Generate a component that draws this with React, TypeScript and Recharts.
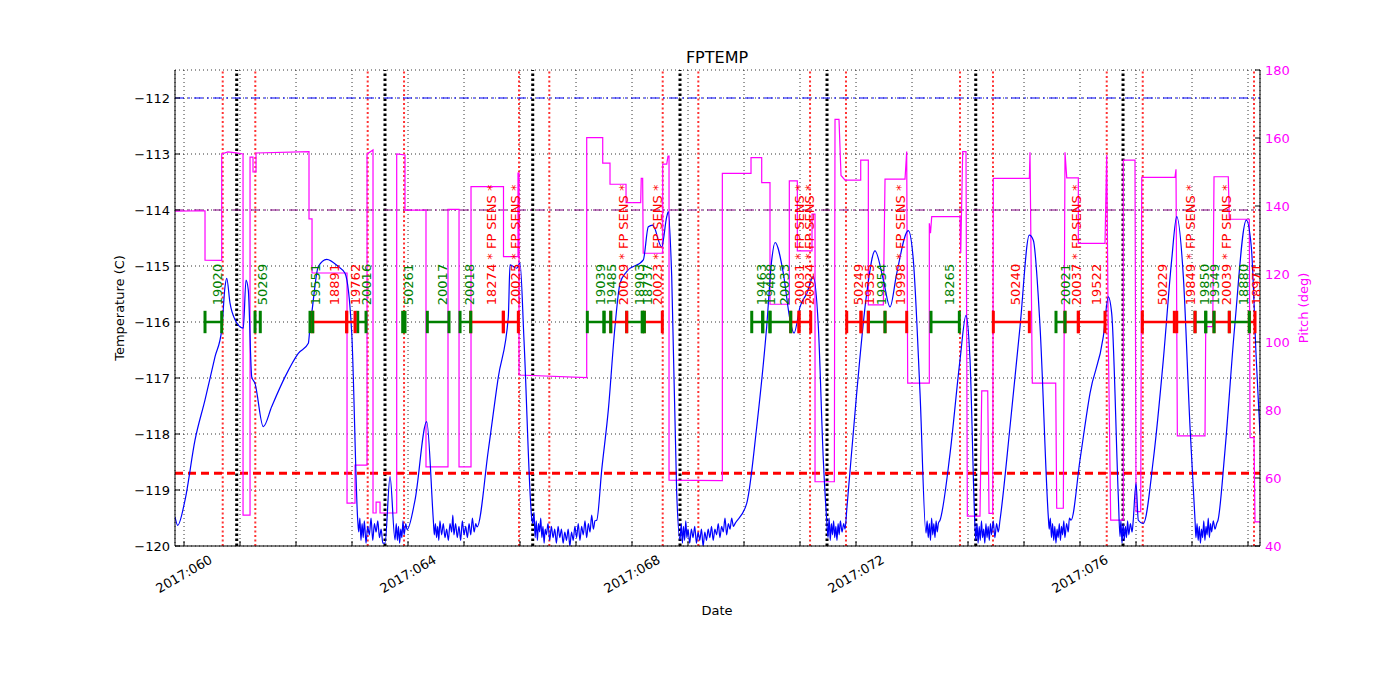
import { ComposedChart, Line, XAxis, YAxis, CartesianGrid, ReferenceLine, Scatter } from "recharts"

// FPTEMP (deg C) vs day of year 2017
const tempPts: [number, number][] = [
  [59.839, -119.48], [59.887, -119.63], [60.018, -119.18], [60.196, -118.11], [60.375, -117.39], [60.554, -116.62],
  [60.673, -116.14], [60.732, -115.37], [60.763, -115.22], [60.821, -115.66], [60.911, -115.96], [61.059, -116.11],
  [61.107, -115.25], [61.148, -115.43], [61.209, -116.98], [61.268, -117.1], [61.416, -117.87], [61.566, -117.51],
  [61.804, -116.98], [62.041, -116.56], [62.22, -116.38], [62.25, -116.08], [62.28, -115.85], [62.398, -115.01],
  [62.548, -114.88], [62.755, -115.01], [62.875, -115.13], [62.995, -116.2], [63.102, -119.54],
  [63.12, -119.75], [63.14, -119.5], [63.16, -119.9], [63.18, -119.6], [63.2, -119.85], [63.22, -119.55], [63.25, -119.95],
  [63.28, -119.65], [63.31, -119.8], [63.34, -119.5], [63.37, -119.9], [63.4, -119.6], [63.43, -119.75], [63.46, -119.55],
  [63.49, -119.85], [63.52, -119.7], [63.55, -119.95], [63.589, -119.95],
  [63.679, -118.76], [63.768, -119.89],
  [63.79, -119.6], [63.81, -119.9], [63.83, -119.65], [63.85, -119.95], [63.87, -119.7], [63.89, -119.85], [63.91, -119.55],
  [63.93, -119.8], [63.96, -119.6], [63.982, -119.71],
  [64.125, -119.18], [64.334, -117.78], [64.452, -119.54],
  [64.47, -119.8], [64.49, -119.6], [64.51, -119.85], [64.53, -119.65], [64.55, -119.9], [64.57, -119.55], [64.6, -119.8],
  [64.63, -119.6], [64.66, -119.85], [64.69, -119.7], [64.72, -119.9], [64.75, -119.6], [64.78, -119.75], [64.8, -119.45],
  [64.82, -119.8], [64.85, -119.6], [64.88, -119.85], [64.91, -119.65], [64.94, -119.9], [64.97, -119.55], [65.0, -119.8],
  [65.03, -119.65], [65.06, -119.85], [65.09, -119.6], [65.12, -119.8], [65.15, -119.5], [65.18, -119.75], [65.21, -119.6],
  [65.232, -119.66],
  [65.434, -118.29], [65.613, -116.98], [65.791, -115.91], [65.821, -114.98], [65.941, -115.04], [66.0, -114.95],
  [66.071, -116.32], [66.214, -119.54],
  [66.23, -119.6], [66.25, -119.4], [66.27, -119.85], [66.29, -119.55], [66.31, -119.9], [66.33, -119.6], [66.35, -119.75],
  [66.37, -119.5], [66.39, -119.85], [66.41, -119.65], [66.43, -119.95], [66.45, -119.7], [66.47, -119.8], [66.5, -119.6],
  [66.53, -119.9], [66.56, -119.65], [66.59, -119.85], [66.62, -119.7], [66.65, -119.95], [66.68, -119.65], [66.71, -119.85],
  [66.74, -119.7], [66.77, -119.95], [66.8, -119.75], [66.83, -119.9], [66.86, -119.7], [66.89, -120.0], [66.92, -119.75],
  [66.95, -119.9], [66.98, -119.65], [67.01, -119.85], [67.04, -119.6], [67.07, -119.9], [67.1, -119.65], [67.13, -119.8],
  [67.16, -119.55], [67.19, -119.85], [67.22, -119.6], [67.25, -119.75], [67.28, -119.45], [67.31, -119.7], [67.339, -119.55],
  [67.37, -119.54], [67.459, -118.64], [67.577, -117.57], [67.696, -116.08], [67.786, -115.31], [67.905, -115.1],
  [68.202, -114.89], [68.291, -114.3], [68.37, -114.27], [68.53, -114.66], [68.62, -114.12], [68.648, -114.03],
  [68.709, -115.19], [68.798, -119.06], [68.857, -119.89],
  [68.88, -119.6], [68.9, -119.95], [68.92, -119.65], [68.94, -119.9], [68.96, -119.55], [68.98, -119.85], [69.0, -119.7],
  [69.03, -119.95], [69.06, -119.7], [69.09, -119.85], [69.12, -119.65], [69.15, -119.95], [69.18, -119.75], [69.21, -119.9],
  [69.24, -119.7], [69.27, -120.0], [69.3, -119.75], [69.33, -119.9], [69.36, -119.7], [69.39, -119.85], [69.42, -119.65],
  [69.45, -119.9], [69.48, -119.7], [69.51, -119.8], [69.54, -119.6], [69.57, -119.85], [69.6, -119.65], [69.63, -119.75],
  [69.66, -119.5], [69.69, -119.8], [69.72, -119.6], [69.75, -119.7], [69.78, -119.5], [69.81, -119.65], [69.839, -119.6],
  [70.048, -119.24], [70.227, -117.87], [70.405, -116.08], [70.495, -114.89], [70.554, -114.58], [70.702, -115.13],
  [70.821, -115.96], [70.893, -116.2], [71.0, -115.73], [71.12, -115.49], [71.238, -115.19], [71.327, -116.08],
  [71.416, -118.46], [71.477, -119.54],
  [71.5, -119.85], [71.52, -119.5], [71.54, -119.9], [71.56, -119.6], [71.58, -119.8], [71.6, -119.55], [71.62, -119.85],
  [71.64, -119.65], [71.66, -119.9], [71.68, -119.6], [71.7, -119.8], [71.72, -119.55], [71.75, -119.75], [71.78, -119.6],
  [71.804, -119.7],
  [71.834, -119.36], [72.012, -117.27], [72.191, -115.49], [72.339, -114.73], [72.488, -115.25], [72.607, -115.73],
  [72.727, -115.13], [72.934, -114.37], [73.023, -114.89], [73.143, -117.27], [73.25, -119.77],
  [73.27, -119.55], [73.29, -119.85], [73.31, -119.6], [73.33, -119.9], [73.35, -119.5], [73.37, -119.8], [73.39, -119.6],
  [73.41, -119.85], [73.43, -119.55], [73.45, -119.75], [73.47, -119.6], [73.5, -119.54],
  [73.679, -118.35], [73.857, -116.68], [73.964, -115.88], [74.036, -116.68], [74.125, -119.66],
  [74.14, -119.9], [74.16, -119.6], [74.18, -119.95], [74.2, -119.65], [74.22, -119.9], [74.24, -119.55], [74.26, -119.85],
  [74.28, -119.7], [74.3, -119.95], [74.32, -119.6], [74.34, -119.85], [74.36, -119.65], [74.38, -119.9], [74.4, -119.6],
  [74.42, -119.8], [74.45, -119.55], [74.48, -119.85], [74.51, -119.6], [74.54, -119.75], [74.571, -119.54],
  [74.75, -117.87], [74.929, -116.08], [75.095, -114.45], [75.166, -114.54], [75.286, -116.08], [75.434, -119.48],
  [75.45, -119.7], [75.47, -119.5], [75.49, -119.85], [75.51, -119.6], [75.53, -119.9], [75.55, -119.65], [75.57, -119.95],
  [75.59, -119.7], [75.61, -119.85], [75.63, -119.6], [75.65, -119.9], [75.67, -119.65], [75.69, -119.8], [75.71, -119.55],
  [75.73, -119.85], [75.76, -119.6], [75.79, -119.75], [75.81, -119.5], [75.839, -119.54],
  [76.0, -118.46], [76.179, -117.27], [76.416, -116.26], [76.505, -115.55], [76.566, -115.85], [76.684, -119.12],
  [76.714, -119.83],
  [76.73, -119.55], [76.75, -119.95], [76.77, -119.6], [76.79, -119.9], [76.81, -119.65], [76.83, -119.85], [76.85, -119.55],
  [76.87, -119.8], [76.9, -119.6], [76.93, -119.75], [76.946, -119.6],
  [77.0, -118.88], [77.041, -119.54], [77.13, -119.6], [77.309, -118.46], [77.487, -116.68], [77.637, -114.89],
  [77.727, -114.12], [77.845, -115.19], [77.964, -117.87], [78.054, -119.54],
  [78.07, -119.85], [78.09, -119.6], [78.11, -119.9], [78.13, -119.65], [78.15, -119.95], [78.17, -119.7], [78.19, -119.85],
  [78.21, -119.55], [78.23, -119.9], [78.25, -119.65], [78.27, -119.8], [78.29, -119.5], [78.31, -119.85], [78.33, -119.6],
  [78.35, -119.75], [78.38, -119.55], [78.41, -119.7], [78.44, -119.6], [78.464, -119.54],
  [78.584, -118.35], [78.762, -116.08], [78.97, -114.18], [79.059, -114.66], [79.148, -116.68], [79.214, -118.0],
]

// pitch (deg) vs day of year 2017
const pitchPts: [number, number][] = [
  [59.839, 138.5], [60.375, 138.6], [60.375, 124.1], [60.673, 124.0], [60.673, 155.3], [60.786, 155.9], [60.929, 155.6],
  [61.054, 155.3], [61.054, 49.1], [61.179, 49.1], [61.179, 154.4], [61.232, 154.4], [61.232, 150.0], [61.286, 150.0],
  [61.286, 155.6], [62.232, 156.0], [62.232, 136.2], [62.286, 136.2], [62.286, 120.3], [62.911, 120.3], [62.911, 52.6],
  [63.054, 52.6], [63.054, 63.8], [63.268, 63.8], [63.268, 155.3], [63.375, 156.5], [63.375, 49.7], [63.43, 49.7],
  [63.43, 52.9], [63.5, 52.9], [63.5, 49.7], [63.798, 49.7], [63.798, 155.3], [63.946, 155.0], [63.946, 138.8],
  [64.321, 138.8], [64.321, 63.3], [64.714, 63.3], [64.714, 139.0], [64.911, 139.0], [64.911, 63.3], [65.125, 63.3],
  [65.125, 145.7], [65.705, 145.7], [65.705, 125.1], [65.964, 125.1], [65.964, 149.7], [65.982, 149.7], [65.982, 90.3],
  [67.191, 89.5], [67.191, 160.1], [67.477, 160.1], [67.477, 152.6], [67.607, 152.6], [67.607, 146.4], [67.893, 146.4],
  [67.893, 141.0], [68.155, 141.0], [68.165, 148.1], [68.19, 148.1], [68.2, 126.1], [68.548, 126.1], [68.548, 152.3],
  [68.62, 152.3], [68.643, 154.7], [68.661, 154.7], [68.661, 59.4], [69.613, 59.2], [69.613, 149.6], [70.125, 149.6],
  [70.125, 154.2], [70.316, 154.2], [70.316, 146.9], [70.464, 146.9], [70.464, 111.1], [70.809, 111.1], [70.809, 147.4],
  [70.952, 147.4], [70.952, 126.8], [71.214, 126.8], [71.214, 137.6], [71.268, 137.6], [71.268, 58.9], [71.613, 58.9],
  [71.625, 165.5], [71.696, 165.5], [71.732, 149.0], [71.804, 147.6], [72.084, 147.6], [72.084, 153.5], [72.22, 153.5],
  [72.22, 110.9], [72.488, 110.9], [72.518, 147.9], [72.875, 147.9], [72.905, 156.0], [72.923, 87.9], [73.309, 87.9],
  [73.309, 134.9], [73.33, 132.0], [73.352, 136.9], [73.857, 136.9], [73.87, 126.2], [73.905, 156.0], [73.964, 156.0],
  [73.988, 48.8], [74.214, 48.8], [74.245, 85.6], [74.352, 85.6], [74.375, 49.6], [74.441, 49.6], [74.452, 148.1],
  [75.095, 148.1], [75.107, 155.8], [75.148, 87.9], [75.566, 87.9], [75.584, 51.1], [75.702, 51.1], [75.732, 155.8],
  [75.763, 148.3], [75.97, 148.3], [75.97, 129.0], [76.446, 129.0], [76.477, 155.0], [76.505, 101.1], [76.548, 47.6],
  [76.773, 47.6], [76.773, 153.5], [76.982, 153.5], [77.0, 50.1], [77.084, 50.1], [77.102, 148.4], [77.696, 148.4],
  [77.714, 150.8], [77.738, 72.4], [78.232, 72.4], [78.245, 104.5], [78.37, 104.5], [78.393, 148.6], [78.648, 148.6],
  [78.666, 136.1], [79.023, 136.1], [79.036, 71.9], [79.107, 71.9], [79.125, 47.1], [79.214, 47.1],
]

// vertical markers (day of year)
const redMarks = [60.691, 61.273, 63.28, 63.929, 65.982, 66.523, 68.548, 69.184, 71.179, 71.821, 73.857, 74.446, 76.477, 77.12, 79.107]
const blackMarks = [60.941, 63.589, 66.227, 68.857, 71.482, 74.138, 76.768]

// obsid intervals: start, stop, label, kind
const segments: [number, number, string, "g" | "r"][] = [
  [60.375, 60.673, "19020", "g"],
  [61.268, 61.362, "50269", "g"],
  [62.25, 62.298, "19551", "g"],
  [62.298, 62.905, "18891", "r"],
  [62.905, 63.054, "19762", "r"],
  [63.102, 63.25, "20016", "g"],
  [63.905, 63.946, "50261", "g"],
  [64.345, 64.732, "20017", "g"],
  [64.929, 65.12, "20018", "g"],
  [65.12, 65.702, "18274 * FP SENS *", "r"],
  [65.702, 65.97, "20025 * FP SENS *", "r"],
  [67.202, 67.5, "19039", "g"],
  [67.5, 67.62, "19485", "g"],
  [67.62, 67.905, "20029 * FP SENS *", "r"],
  [67.905, 68.184, "18903", "g"],
  [68.184, 68.22, "18737", "g"],
  [68.22, 68.541, "20023 * FP SENS *", "r"],
  [70.138, 70.334, "19463", "g"],
  [70.334, 70.464, "19488", "g"],
  [70.464, 70.834, "20033", "g"],
  [70.834, 70.982, "20031 * FP SENS *", "r"],
  [70.982, 71.191, "20024 * FP SENS *", "r"],
  [71.834, 72.089, "50249", "r"],
  [72.089, 72.22, "19335", "r"],
  [72.22, 72.518, "19954", "g"],
  [72.518, 72.905, "19998 * FP SENS *", "r"],
  [73.339, 73.845, "18265", "g"],
  [74.452, 75.095, "50240", "r"],
  [75.571, 75.732, "20021", "g"],
  [75.732, 75.97, "20037 * FP SENS *", "r"],
  [75.97, 76.446, "19522", "r"],
  [77.113, 77.684, "50229", "r"],
  [77.727, 78.054, "19849 * FP SENS *", "r"],
  [78.054, 78.245, "19850", "g"],
  [78.245, 78.393, "19349", "g"],
  [78.393, 78.666, "20039 * FP SENS *", "r"],
  [78.666, 79.023, "18880", "g"],
  [79.023, 79.125, "18971", "r"],
]

const dayTicks = [60, 61, 62, 63, 64, 65, 66, 67, 68, 69, 70, 71, 72, 73, 74, 75, 76, 77, 78, 79]
const labelledDays = [60, 64, 68, 72, 76]
const tempTicks = [-120, -119, -118, -117, -116, -115, -114, -113, -112]
const pitchTicks = [40, 60, 80, 100, 120, 140, 160, 180]

const planningLimit = -112
const cautionLimit = -114
const acisLimit = -118.7
const segLevel = -116
const labelLevel = -115.7

const kindColor = { g: "#008000", r: "#ff0000" }
const FONT = "DejaVu Sans, sans-serif"

const tempData = tempPts.map(([x, y]) => ({ x, y }))
const pitchData = pitchPts.map(([x, y]) => ({ x, y }))
const labelData = segments.map(([s, e, text, kind]) => ({ x: (s + e) / 2, y: labelLevel, text, kind }))

const BottomTick = (props: any) => {
  const { x, y, payload } = props
  const v = payload.value
  return (
    <g>
      <line x1={x} x2={x} y1={y} y2={y - 5} stroke="#000" />
      {labelledDays.includes(v) && (
        <text
          transform={`translate(${x},${y + 28}) rotate(-30)`}
          textAnchor="middle"
          dominantBaseline="central"
          fontSize={13}
          fontFamily={FONT}
          fill="#000"
        >
          {"2017:" + String(v).padStart(3, "0")}
        </text>
      )}
    </g>
  )
}

const TopTick = (props: any) => {
  const { x, y } = props
  return <line x1={x} x2={x} y1={y} y2={y + 5} stroke="#000" />
}

const LeftTick = (props: any) => {
  const { x, y, payload } = props
  return (
    <g>
      <line x1={x} x2={x + 5} y1={y} y2={y} stroke="#000" />
      <text x={x - 5} y={y} textAnchor="end" dominantBaseline="central" fontSize={13} fontFamily={FONT} fill="#000">
        {String(payload.value).replace("-", "\u2212")}
      </text>
    </g>
  )
}

const RightTick = (props: any) => {
  const { x, y, payload } = props
  return (
    <g>
      <line x1={x} x2={x - 5} y1={y} y2={y} stroke="#000" />
      <text x={x + 5} y={y} textAnchor="start" dominantBaseline="central" fontSize={13} fontFamily={FONT} fill="#ff00ff">
        {payload.value}
      </text>
    </g>
  )
}

const ObsLabel = (props: any) => {
  const { cx, cy, payload } = props
  return (
    <text
      transform={`translate(${cx + 9},${cy}) rotate(-90)`}
      textAnchor="start"
      fontSize={13}
      fontFamily={FONT}
      fill={kindColor[payload.kind as "g" | "r"]}
    >
      {payload.text}
    </text>
  )
}

export default function App() {
  return (
    <div style={{ position: "absolute", left: 0, top: 0, width: 1400, height: 700, background: "#fff", fontFamily: FONT }}>
      <div style={{ position: "absolute", left: 717, top: 57, transform: "translate(-50%,-50%)", fontSize: 16 }}>FPTEMP</div>
      <div style={{ position: "absolute", left: 717, top: 610, transform: "translate(-50%,-50%)", fontSize: 13 }}>Date</div>
      <div
        style={{
          position: "absolute",
          left: 119,
          top: 308,
          transform: "translate(-50%,-50%) rotate(-90deg)",
          fontSize: 13,
          whiteSpace: "nowrap",
        }}
      >
        Temperature (C)
      </div>
      <div
        style={{
          position: "absolute",
          left: 1303,
          top: 308,
          transform: "translate(-50%,-50%) rotate(-90deg)",
          fontSize: 13,
          color: "#ff00ff",
          whiteSpace: "nowrap",
        }}
      >
        Pitch (deg)
      </div>
      <div style={{ position: "absolute", left: 0, top: 0 }}>
        <ComposedChart width={1400} height={700} margin={{ top: 70, right: 90, bottom: 114, left: 125 }}>
          <CartesianGrid stroke="#000" strokeWidth={0.8} strokeDasharray="1 3" />
          <XAxis
            dataKey="x"
            type="number"
            domain={[59.839, 79.214]}
            ticks={dayTicks}
            allowDataOverflow
            height={40}
            tickSize={0}
            tickMargin={0}
            tickLine={false}
            tick={BottomTick}
            axisLine={{ stroke: "#000" }}
            interval={0}
          />
          <XAxis
            xAxisId="top"
            orientation="top"
            type="number"
            domain={[59.839, 79.214]}
            ticks={dayTicks}
            allowDataOverflow
            height={0}
            tickSize={0}
            tickMargin={0}
            tickLine={false}
            tick={TopTick}
            axisLine={{ stroke: "#000" }}
            interval={0}
          />
          <YAxis
            type="number"
            domain={[-120, -111.5]}
            ticks={tempTicks}
            allowDataOverflow
            width={50}
            tickSize={0}
            tickMargin={0}
            tickLine={false}
            tick={LeftTick}
            axisLine={{ stroke: "#000" }}
            interval={0}
          />
          <YAxis
            yAxisId="p"
            orientation="right"
            type="number"
            domain={[40, 180]}
            ticks={pitchTicks}
            allowDataOverflow
            width={50}
            tickSize={0}
            tickMargin={0}
            tickLine={false}
            tick={RightTick}
            axisLine={{ stroke: "#000" }}
            interval={0}
          />

          {redMarks.map((d) => (
            <ReferenceLine key={"r" + d} x={d} stroke="#ff3333" strokeWidth={2} strokeDasharray="2 2.5" />
          ))}
          {blackMarks.map((d) => (
            <ReferenceLine key={"b" + d} x={d} stroke="#000" strokeWidth={3} strokeDasharray="2.5 2.5" />
          ))}
          <ReferenceLine y={planningLimit} stroke="#0000ff" strokeWidth={1} strokeDasharray="9 4 2 4" />
          <ReferenceLine y={cautionLimit} stroke="#800080" strokeWidth={1} strokeDasharray="9 4 2 4" />
          <ReferenceLine y={acisLimit} stroke="#ff0000" strokeWidth={3} strokeDasharray="8 5" />

          <Line
            yAxisId="p"
            data={pitchData}
            dataKey="y"
            type="linear"
            stroke="#ff00ff"
            strokeWidth={1.2}
            dot={false}
            isAnimationActive={false}
          />
          <Line
            data={tempData}
            dataKey="y"
            type="monotone"
            stroke="#0000ff"
            strokeWidth={1.2}
            dot={false}
            isAnimationActive={false}
          />

          {segments.map(([s, e, text, kind]) => (
            <ReferenceLine
              key={"h" + text + s}
              segment={[{ x: s, y: segLevel }, { x: e, y: segLevel }]}
              stroke={kindColor[kind]}
              strokeWidth={2.5}
            />
          ))}
          {segments.map(([s, e, text, kind]) => (
            <ReferenceLine
              key={"s" + text + s}
              segment={[{ x: s, y: segLevel - 0.2 }, { x: s, y: segLevel + 0.2 }]}
              stroke={kindColor[kind]}
              strokeWidth={3}
            />
          ))}
          {segments.map(([s, e, text, kind]) => (
            <ReferenceLine
              key={"e" + text + s}
              segment={[{ x: e, y: segLevel - 0.2 }, { x: e, y: segLevel + 0.2 }]}
              stroke={kindColor[kind]}
              strokeWidth={3}
            />
          ))}

          <Scatter data={labelData} dataKey="y" shape={ObsLabel} isAnimationActive={false} />
        </ComposedChart>
      </div>
    </div>
  )
}
